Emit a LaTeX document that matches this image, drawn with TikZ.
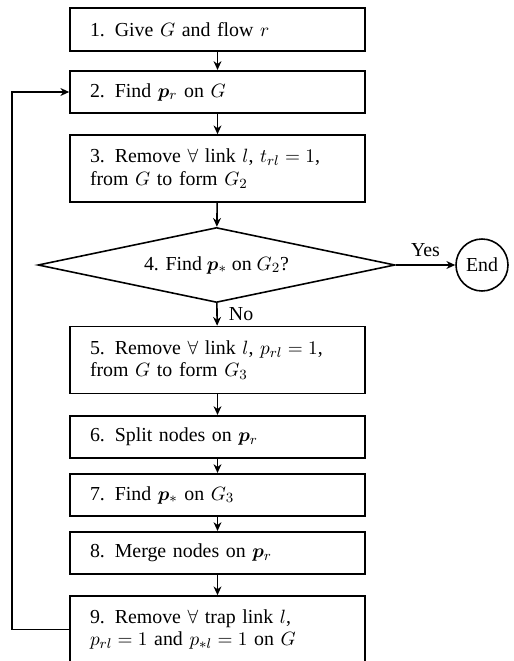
\documentclass[tikz,border=0pt]{standalone}
\usepackage{amsmath,bm}
\usepackage{fontspec}
\setmainfont{Liberation Serif}
\tikzset{>=stealth}
\usetikzlibrary{shapes,positioning}
\tikzset{
	stepbox/.style={draw, line width=0.9pt, minimum width=5.9cm, minimum height=0.85cm, text width=5.1cm, align=left, inner xsep=0.4cm},
	tallbox/.style={stepbox, minimum height=1.34cm},
	decide/.style={draw, diamond, aspect=4.76, line width=0.9pt, minimum width=7.14cm, minimum height=1.5cm, inner sep=0pt},
	stopnode/.style={draw, circle, line width=0.9pt, minimum size=1.04cm, inner sep=0pt},
	flow/.style={-{Stealth[length=5pt,width=4.5pt]}, line width=0.9pt}
}
\usetikzlibrary{arrows.meta}

\begin{document}
\begin{tikzpicture}[font=\fontsize{11.3}{12.8}\selectfont]
				\useasboundingbox (0,0) rectangle (10.28,-13.22);
				\node [stepbox] (s1) at (4.35,-0.59) {1. Give $G$ and flow $r$};
				\node [stepbox] (s2) at (4.35,-1.84) {2. Find $\bm{p}_r$ on $G$};
				\node [tallbox] (s3) at (4.35,-3.37) {3. Remove $\forall$ link $l$, $t_{rl} = 1$,\\ from $G$ to form $G_2$};
				\node [decide] (s4) at (4.33,-5.3) {4. Find $\bm{p}_*$ on $G_2$?};
				\node [stopnode] (done) at (9.64,-5.3) {End};
				\node [tallbox] (s5) at (4.35,-7.2) {5. Remove $\forall$ link $l$, $p_{rl} = 1$,\\ from $G$ to form $G_3$};
				\node [stepbox] (s6) at (4.35,-8.74) {6. Split nodes on $\bm{p}_r$};
				\node [stepbox] (s7) at (4.35,-9.9) {7. Find $\bm{p}_*$ on $G_3$};
				\node [stepbox] (s8) at (4.35,-11.06) {8. Merge nodes on $\bm{p}_r$};
				\node [tallbox] (s9) at (4.35,-12.59) {9. Remove $\forall$ trap link $l$,\\ $p_{rl} = 1$ and $p_{*l} = 1$ on $G$};
				\coordinate (back) at (0.24,-12.59);
				
				\draw [flow] (s1) -- (s2);
				\draw [flow] (s2) -- (s3);
				\draw [flow] (s3) -- (s4);
				\draw [flow] (s4) -- (done) node [midway,above=1pt] {Yes};
				\draw [flow] (s4) -- (s5) node [midway,right=3pt] {No};
				\draw [flow] (s5) -- (s6);
				\draw [flow] (s6) -- (s7);
				\draw [flow] (s7) -- (s8);
				\draw [flow] (s8) -- (s9);
				%loop back to step 2
				\draw [flow] (s9.west) -- (back) |- (s2.west);
\end{tikzpicture}
\end{document}
